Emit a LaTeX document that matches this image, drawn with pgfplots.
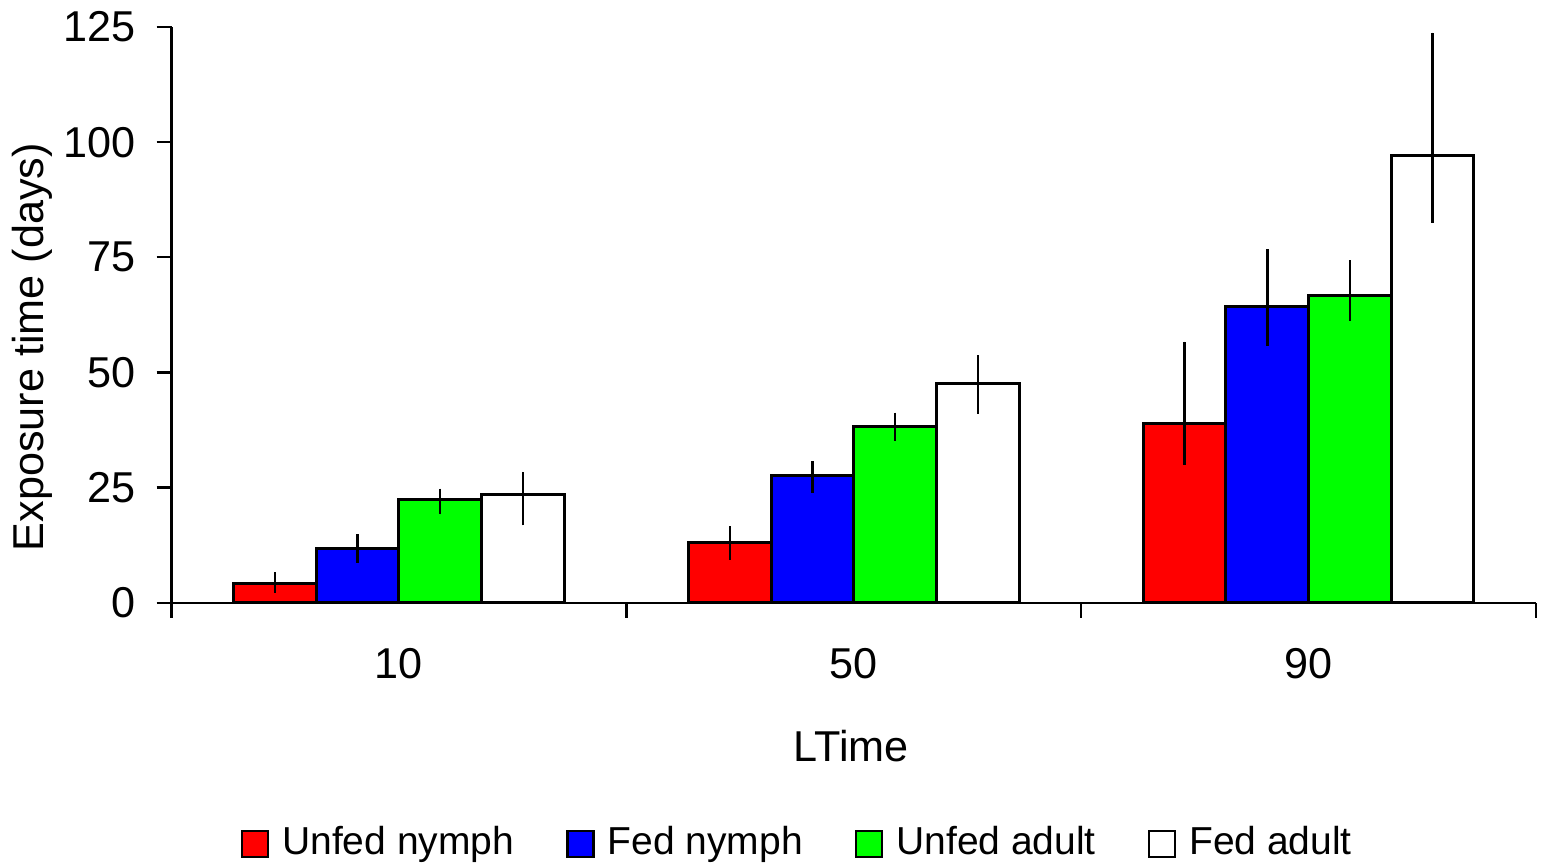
\documentclass[border=0pt]{standalone}
\usepackage{pgfplots}
\pgfplotsset{compat=1.18}
\usepackage{fontspec}
\setmainfont{Liberation Sans}
\usetikzlibrary{calc}
\definecolor{cred}{RGB}{255,0,0}
\definecolor{cblue}{RGB}{0,0,255}
\definecolor{cgreen}{RGB}{0,255,0}
\pgfplotsset{
  mybar/.style={ybar, bar width=0.1817, bar shift=0pt, fill=#1, draw=black, line width=0.75pt,
    legend image code/.code={\draw[##1, line width=0.6pt] (0pt,-3.25pt) rectangle (6.5pt,3.25pt);},
    error bars/.cd, y dir=both, y explicit, error mark=none,
    error bar style={line width=0.6pt, black}, /pgfplots/.cd}
}
\begin{document}
\begin{tikzpicture}
\begin{axis}[
  name=ax, scale only axis, width=341.25pt, height=144pt,
  xmin=-0.5, xmax=2.5, ymin=0, ymax=125,
  axis x line*=bottom, axis y line*=left,
  axis line style={line width=0.6pt, black},
  ytick={0,25,50,75,100,125},
  xtick={-0.5,0.5,1.5,2.5}, xticklabels={},
  extra x ticks={0,1,2}, extra x tick labels={10,50,90},
  extra x tick style={major tick length=0pt, tick style={draw=none}},
  tick align=outside, major tick length=3.75pt,
  tick style={line width=0.6pt, black},
  ticklabel style={font=\fontsize{10.8}{13}\selectfont},
  xticklabel style={yshift=-7.9pt},
  yticklabel style={inner sep=0pt, xshift=-5.05pt},
  /pgf/number format/assume math mode=true,
  ylabel={Exposure time (days)},
  xlabel={LTime},
  every axis y label/.style={at={(axis description cs:-0.1022,0.444)}, rotate=90, anchor=center, font=\fontsize{10.8}{13}\selectfont},
  every axis x label/.style={at={(axis description cs:0.498,-0.248)}, anchor=center, font=\fontsize{10.8}{13}\selectfont},
  legend style={at={(0.4608,-0.4185)}, anchor=center, draw=none, legend columns=4,
    font=\fontsize{9.75}{11.5}\selectfont,
    /tikz/every even column/.append style={column sep=11pt},
    /tikz/every odd column/.append style={column sep=1.3pt}},
]
\addplot[mybar=cred] coordinates {
  (-0.2725,4.1) += (0,2.5) -= (0,1.9)
  (0.7275,13.0) += (0,3.6) -= (0,3.7)
  (1.7275,39.0) += (0,17.7) -= (0,9.0)
};
\addlegendentry{Unfed nymph}
\addplot[mybar=cblue] coordinates {
  (-0.0908,11.8) += (0,3.1) -= (0,3.1)
  (0.9092,27.6) += (0,3.1) -= (0,3.7)
  (1.9092,64.3) += (0,12.4) -= (0,8.5)
};
\addlegendentry{Fed nymph}
\addplot[mybar=cgreen] coordinates {
  (0.0908,22.4) += (0,2.4) -= (0,3.2)
  (1.0908,38.2) += (0,3.1) -= (0,3.1)
  (2.0908,66.6) += (0,7.8) -= (0,5.4)
};
\addlegendentry{Unfed adult}
\addplot[mybar=white] coordinates {
  (0.2725,23.6) += (0,4.8) -= (0,6.8)
  (1.2725,47.7) += (0,6.0) -= (0,6.7)
  (2.2725,97.2) += (0,26.6) -= (0,14.8)
};
\addlegendentry{Fed adult}
\end{axis}
\pgfresetboundingbox
\path ($(ax.south west)+(-42.9pt,-65.5pt)$) rectangle ($(ax.north east)+(2.5pt,6.75pt)$);
\end{tikzpicture}
\end{document}
